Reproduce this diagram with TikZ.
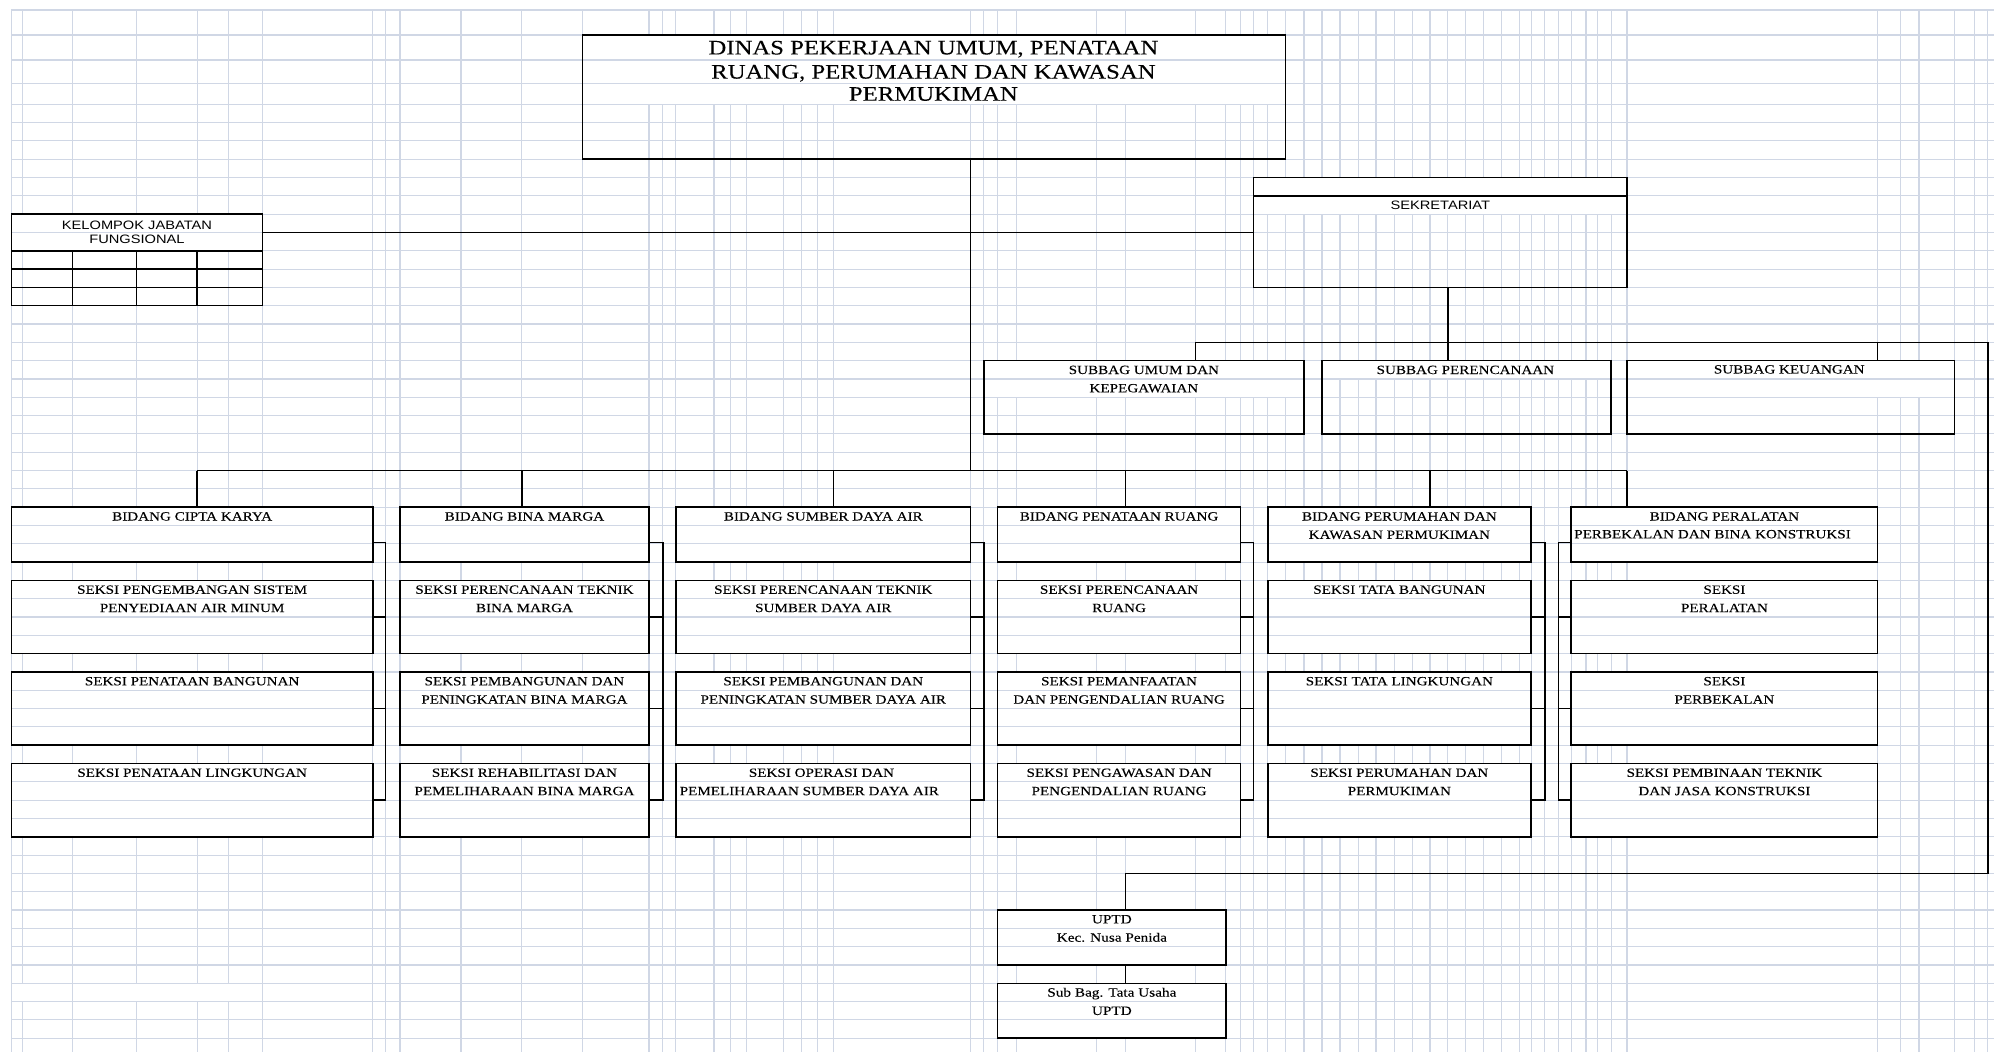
\documentclass[tikz,border=0pt]{standalone}
\usepackage{fontspec}
\newfontfamily\pal[FakeStretch=1.2,FakeBold=0.12]{Liberation Serif}
\newfontfamily\arl[FakeStretch=1.2]{Liberation Sans}
\pgfdeclarelayer{gridv}
\pgfdeclarelayer{maskl}
\pgfdeclarelayer{gridh}
\pgfsetlayers{gridv,maskl,gridh,main}
\definecolor{gridc}{RGB}{208,215,229}
\tikzset{
  gl/.style={draw=gridc, line width=0.9pt},
  bx/.style={draw=black, line width=1.2pt, inner sep=0pt, outer sep=0pt, rectangle},
  ln/.style={draw=black, line width=1.2pt, line join=miter},
  ts/.style={font={\pal\fontsize{9.9}{12}\selectfont}, anchor=base, yshift=-3.3pt, inner sep=0pt},
  tsw/.style={ts, anchor=base west},
  thead/.style={font={\pal\fontsize{16.2}{19}\selectfont}, anchor=base, yshift=-5.4pt, inner sep=0pt},
  tsans/.style={font={\arl\fontsize{9.6}{11}\selectfont}, anchor=base, yshift=-3.4pt, inner sep=0pt},
  tup/.style={font={\pal\fontsize{10}{12}\selectfont}, anchor=base, yshift=-3.3pt, inner sep=0pt},
}
% #1 name, #2 x1, #3 y1, #4 x2, #5 y2, #6 y where the white mask ends
\newcommand\mkbox[6]{%
  \node[bx, minimum width={(#4-#2)*1pt}, minimum height={(#5-#3)*1pt}] (#1) at ({(#2+#4)/2},{(#3+#5)/2}) {};
  \begin{pgfonlayer}{maskl}\fill[white] (#2,#3) rectangle (#4,#6);\end{pgfonlayer}}
% bracket: #1 column prefix, #2 x of bracket, #3 anchor
\newcommand\brk[3]{%
  \draw[ln] (#1b.#3 |- 0,426.6) -- (#2,426.6) -- (#2,629.2) -- (#1s3.#3 |- 0,629.2);
  \draw[ln] (#1s1.#3 |- 0,485.2) -- (#2,485.2);
  \draw[ln] (#1s2.#3 |- 0,557.2) -- (#2,557.2);}
\begin{document}
\begin{tikzpicture}[x=1pt,y=-1pt]
\useasboundingbox (0,0) rectangle (1568,827);
% ---------- grid ----------
\begin{pgfonlayer}{gridv}
\fill[white] (0,0) rectangle (1568,827);
\foreach \x in {9,18,57,107.5,155,180,206.3,293.2,303.2,314.5,362.5,410.3,458.2,510.3,521.2,531.5,561.5,574.7,587.3,616.4,630,642.6,655.6,763.2,773.6,784.5,799.5,862,885.2,940.2,964,975.6,985.8,997,1010.8,1025.4,1039.6,1053.7,1068,1082,1096.5,1110.7,1124.5,1138.5,1152.5,1166.8,1181,1194.8,1204,1214.8,1225.5,1235.5,1247.2,1256.5,1267,1279.4,1476.5,1494.2,1509,1537,1552.5,1563.2}
  \draw[gl] (\x,7.9) -- (\x,827);
\end{pgfonlayer}
\begin{pgfonlayer}{gridh}
\foreach \y in {7.9,27.5,47.2,65.5}
  \draw[gl] (9,\y) -- (1568,\y);
\foreach \k in {0,...,51}
  \draw[gl] (9,{82+14.4*\k}) -- (1568,{82+14.4*\k});
\end{pgfonlayer}
\begin{pgfonlayer}{maskl}
\fill[white] (9.6,773.2) rectangle (56.4,787.6);
\fill[white] (57.6,773.2) rectangle (205.7,787.6);
\end{pgfonlayer}
% ---------- boxes ----------
\mkbox{dinas}{458.2}{27.5}{1010.8}{125.2}{82}
\mkbox{kel}{9}{168.4}{206.3}{240.4}{197.2}
\mkbox{sek}{985.8}{139.6}{1279.4}{226}{168.4}
\mkbox{umum}{773.6}{283.6}{1025.4}{341.2}{312.4}
\mkbox{per}{1039.6}{283.6}{1267}{341.2}{298}
\mkbox{keu}{1279.4}{283.6}{1537}{341.2}{312.4}
% columns
\mkbox{c1b}{9}{398.8}{293.2}{442}{442}
\mkbox{c1s1}{9}{456.4}{293.2}{514}{514}
\mkbox{c1s2}{9}{528.4}{293.2}{586}{586}
\mkbox{c1s3}{9}{600.4}{293.2}{658}{658}
\mkbox{c2b}{314.5}{398.8}{510.3}{442}{442}
\mkbox{c2s1}{314.5}{456.4}{510.3}{514}{514}
\mkbox{c2s2}{314.5}{528.4}{510.3}{586}{586}
\mkbox{c2s3}{314.5}{600.4}{510.3}{658}{658}
\mkbox{c3b}{531.5}{398.8}{763.2}{442}{442}
\mkbox{c3s1}{531.5}{456.4}{763.2}{514}{514}
\mkbox{c3s2}{531.5}{528.4}{763.2}{586}{586}
\mkbox{c3s3}{531.5}{600.4}{763.2}{658}{658}
\mkbox{c4b}{784.5}{398.8}{975.6}{442}{442}
\mkbox{c4s1}{784.5}{456.4}{975.6}{514}{514}
\mkbox{c4s2}{784.5}{528.4}{975.6}{586}{586}
\mkbox{c4s3}{784.5}{600.4}{975.6}{658}{658}
\mkbox{c5b}{997}{398.8}{1204}{442}{442}
\mkbox{c5s1}{997}{456.4}{1204}{514}{514}
\mkbox{c5s2}{997}{528.4}{1204}{586}{586}
\mkbox{c5s3}{997}{600.4}{1204}{658}{658}
\mkbox{c6b}{1235.5}{398.8}{1476.5}{442}{442}
\mkbox{c6s1}{1235.5}{456.4}{1476.5}{514}{514}
\mkbox{c6s2}{1235.5}{528.4}{1476.5}{586}{586}
\mkbox{c6s3}{1235.5}{600.4}{1476.5}{658}{658}
\mkbox{uptd}{784.5}{715.6}{964}{758.8}{758.8}
\mkbox{sbt}{784.5}{773.2}{964}{816.4}{816.4}
% inner lines of boxes
\draw[ln] (9,197.2) -- (206.3,197.2);
\draw[ln] (9,211.6) -- (206.3,211.6);
\draw[ln] (9,226) -- (206.3,226);
\foreach \x in {57,107.5,155} \draw[ln] (\x,197.2) -- (\x,240.4);
\draw[ln] (985.8,154) -- (1279.4,154);
% ---------- connectors ----------
\coordinate (m) at (763.2,370);
\coordinate (kl) at (600,182.8);
\coordinate (sb) at (1138.5,269.2);
\coordinate (sbL) at (940.2,269.2);
\coordinate (sbR) at (1563.2,269.2);
\coordinate (kd) at (1476.5,269.2);
\coordinate (uR) at (1563.2,686.8);
\coordinate (uL) at (885.2,686.8);
\coordinate (b1) at (155,370);
\coordinate (b2) at (410.3,370);
\coordinate (b3) at (655.6,370);
\coordinate (b4) at (885.2,370);
\coordinate (b5) at (1124.5,370);
\coordinate (b6) at (1279.4,370);
\draw[ln] (dinas.south -| m) -- (m);
\draw[ln] (kel.east |- kl) -- (sek.west |- kl);
\draw[ln] (sek.south -| sb) -- (per.north -| sb);
\draw[ln] (umum.north -| sbL) -- (sbL) -- (sbR) -- (uR) -- (uL) -- (uptd.north -| uL);
\draw[ln] (kd) -- (keu.north -| kd);
\draw[ln] (uptd.south -| uL) -- (sbt.north -| uL);
\draw[ln] (b1) -- (b6);
\draw[ln] (b1) -- (c1b.north -| b1);
\draw[ln] (b2) -- (c2b.north -| b2);
\draw[ln] (b3) -- (c3b.north -| b3);
\draw[ln] (b4) -- (c4b.north -| b4);
\draw[ln] (b5) -- (c5b.north -| b5);
\draw[ln] (b6) -- (c6b.north -| b6);
\brk{c1}{303.2}{east}
\brk{c2}{521.2}{east}
\brk{c3}{773.6}{east}
\brk{c4}{985.8}{east}
\brk{c5}{1214.8}{east}
\brk{c6}{1225.5}{west}
% ---------- texts ----------
\node[thead] (h1) at (734,37.4) {DINAS PEKERJAAN UMUM, PENATAAN};
\node[thead] (h2) at (734,56.4) {RUANG, PERUMAHAN DAN KAWASAN};
\node[thead] (h3) at (734,73.8) {PERMUKIMAN};
\node[tsans] (k1) at (107.7,176.9) {KELOMPOK JABATAN};
\node[tsans] (k2) at (107.7,187.9) {FUNGSIONAL};
\node[tsans] (s1) at (1132.6,161.2) {SEKRETARIAT};
\node[ts] (u1) at (899.5,290.8) {SUBBAG UMUM DAN};
\node[ts] (u2) at (899.5,305.2) {KEPEGAWAIAN};
\node[ts] (p1) at (1152.3,290.8) {SUBBAG PERENCANAAN};
\node[ts] (q1) at (1407,290.4) {SUBBAG KEUANGAN};
% column 1
\node[ts] (t1a) at (151.1,406) {BIDANG CIPTA KARYA};
\node[ts] (t1b) at (151.1,463.6) {SEKSI PENGEMBANGAN SISTEM};
\node[ts] (t1c) at (151.1,478) {PENYEDIAAN AIR MINUM};
\node[ts] (t1d) at (151.1,535.6) {SEKSI PENATAAN BANGUNAN};
\node[ts] (t1e) at (151.1,607.6) {SEKSI PENATAAN LINGKUNGAN};
% column 2
\node[ts] (t2a) at (412.4,406) {BIDANG BINA MARGA};
\node[ts] (t2b) at (412.4,463.6) {SEKSI PERENCANAAN TEKNIK};
\node[ts] (t2c) at (412.4,478) {BINA MARGA};
\node[ts] (t2d) at (412.4,535.6) {SEKSI PEMBANGUNAN DAN};
\node[ts] (t2e) at (412.4,550) {PENINGKATAN BINA MARGA};
\node[ts] (t2f) at (412.4,607.6) {SEKSI REHABILITASI DAN};
\node[ts] (t2g) at (412.4,622) {PEMELIHARAAN BINA MARGA};
% column 3
\node[ts] (t3a) at (647.4,406) {BIDANG SUMBER DAYA AIR};
\node[ts] (t3b) at (647.4,463.6) {SEKSI PERENCANAAN TEKNIK};
\node[ts] (t3c) at (647.4,478) {SUMBER DAYA AIR};
\node[ts] (t3d) at (647.4,535.6) {SEKSI PEMBANGUNAN DAN};
\node[ts] (t3e) at (647.4,550) {PENINGKATAN SUMBER DAYA AIR};
\node[ts] (t3f) at (646,607.6) {SEKSI OPERASI DAN};
\node[tsw] (t3g) at (534.3,622) {PEMELIHARAAN SUMBER DAYA AIR};
% column 4
\node[ts] (t4a) at (880,406) {BIDANG PENATAAN RUANG};
\node[ts] (t4b) at (880,463.6) {SEKSI PERENCANAAN};
\node[ts] (t4c) at (880,478) {RUANG};
\node[ts] (t4d) at (880,535.6) {SEKSI PEMANFAATAN};
\node[ts] (t4e) at (880,550) {DAN PENGENDALIAN RUANG};
\node[ts] (t4f) at (880,607.6) {SEKSI PENGAWASAN DAN};
\node[ts] (t4g) at (880,622) {PENGENDALIAN RUANG};
% column 5
\node[ts] (t5a) at (1100.4,406) {BIDANG PERUMAHAN DAN};
\node[ts] (t5b) at (1100.4,420.4) {KAWASAN PERMUKIMAN};
\node[ts] (t5c) at (1100.4,463.6) {SEKSI TATA BANGUNAN};
\node[ts] (t5d) at (1100.4,535.6) {SEKSI TATA LINGKUNGAN};
\node[ts] (t5e) at (1100.4,607.6) {SEKSI PERUMAHAN DAN};
\node[ts] (t5f) at (1100.4,622) {PERMUKIMAN};
% column 6
\node[ts] (t6a) at (1356,406) {BIDANG PERALATAN};
\node[tsw] (t6b) at (1237.7,420) {PERBEKALAN DAN BINA KONSTRUKSI};
\node[ts] (t6c) at (1356,463.6) {SEKSI};
\node[ts] (t6d) at (1356,478) {PERALATAN};
\node[ts] (t6e) at (1356,535.6) {SEKSI};
\node[ts] (t6f) at (1356,550) {PERBEKALAN};
\node[ts] (t6g) at (1356,607.6) {SEKSI PEMBINAAN TEKNIK};
\node[ts] (t6h) at (1356,622) {DAN JASA KONSTRUKSI};
% UPTD
\node[tup] (v1) at (874.3,722.8) {UPTD};
\node[tup] (v2) at (874.3,737.2) {Kec. Nusa Penida};
\node[tup] (v3) at (874.3,780.4) {Sub Bag. Tata Usaha};
\node[tup] (v4) at (874.3,794.8) {UPTD};
\end{tikzpicture}
\end{document}
